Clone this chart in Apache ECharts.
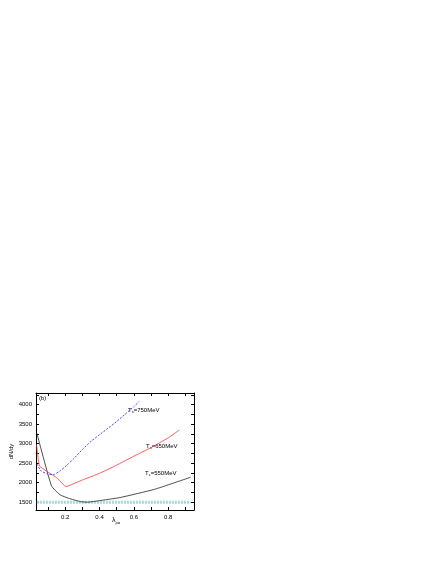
<!DOCTYPE html>
<html><head><meta charset="utf-8">
<script src="https://cdn.jsdelivr.net/npm/echarts@6/dist/echarts.min.js"></script>
<style>html,body{margin:0;padding:0;background:#fff}#c{width:436px;height:564px}</style>
</head><body><div id="c"></div>
<script>
const xTickLabels = [0.2, 0.4, 0.6, 0.8];
const xMinorTicks = [0.1, 0.2, 0.3, 0.4, 0.5, 0.6, 0.7, 0.8, 0.9];
const yTickLabels = [1500, 2000, 2500, 3000, 3500, 4000];
const yMinorTicks = [1500, 1750, 2000, 2250, 2500, 2750, 3000, 3250, 3500, 3750, 4000, 4250];

const lamT550 = [0.035, 0.12, 0.17, 0.22, 0.29, 0.33, 0.4, 0.52, 0.72, 0.93];
const dndyT550 = [3270, 1920, 1690, 1600, 1515, 1500, 1540, 1620, 1830, 2140];

const lamT650 = [0.033, 0.05, 0.1, 0.15, 0.205, 0.3, 0.4, 0.5, 0.6, 0.7, 0.8, 0.865];
const dndyT650 = [2980, 2430, 2270, 2130, 1900, 2070, 2240, 2450, 2680, 2900, 3150, 3350];

const lamT750 = [0.035, 0.06, 0.1, 0.13, 0.17, 0.21, 0.25, 0.3, 0.35, 0.4, 0.45, 0.5, 0.55, 0.6, 0.63];
const dndyT750 = [2480, 2300, 2220, 2210, 2300, 2450, 2620, 2850, 3060, 3230, 3400, 3570, 3760, 3950, 4080];

const lamRef = [0.035, 0.93];
const dndyRef = [1500, 1500];

const zip = (a, b) => a.map((v, i) => [v, b[i]]);
const FONT = 'Liberation Sans';
const chart = echarts.init(document.getElementById('c'));
const axisLine = {show: true, lineStyle: {color: '#000', width: 1}};
chart.setOption({
  animation: false,
  textStyle: {fontFamily: FONT},
  grid: {left: 36, right: 242, top: 393, bottom: 54, containLabel: false},
  xAxis: [
    {type: 'value', min: 0.03, max: 0.95, axisLine,
     axisTick: {inside: true, length: 3, customValues: xMinorTicks, lineStyle: {color: '#000'}},
     axisLabel: {customValues: xTickLabels, fontSize: 6, color: '#000', margin: 4, fontFamily: FONT,
       formatter: v => String(v)},
     splitLine: {show: false}},
    {type: 'value', position: 'top', min: 0.03, max: 0.95, axisLine,
     axisTick: {inside: true, length: 3, customValues: xMinorTicks, lineStyle: {color: '#000'}},
     axisLabel: {show: false}, splitLine: {show: false}}
  ],
  yAxis: [
    {type: 'value', min: 1300, max: 4300, axisLine,
     axisTick: {inside: true, length: 3, customValues: yMinorTicks, lineStyle: {color: '#000'}},
     axisLabel: {customValues: yTickLabels, fontSize: 6, color: '#000', margin: 4, fontFamily: FONT,
       formatter: v => String(v)},
     splitLine: {show: false},
     name: 'dN/dy', nameLocation: 'middle', nameGap: 16, nameRotate: 90,
     nameTextStyle: {fontSize: 6, color: '#000', fontFamily: FONT}},
    {type: 'value', position: 'right', min: 1300, max: 4300, axisLine,
     axisTick: {inside: true, length: 3, customValues: yMinorTicks, lineStyle: {color: '#000'}},
     axisLabel: {show: false}, splitLine: {show: false}}
  ],
  series: [
    {type: 'line', data: zip(lamRef, dndyRef), symbol: 'none', silent: true,
     lineStyle: {color: '#a9d6d6', width: 3, type: [2, 1]}},
    {type: 'line', data: zip(lamT550, dndyT550), symbol: 'none', smooth: 0.15,
     lineStyle: {color: '#222', width: 0.8}},
    {type: 'line', data: zip(lamT650, dndyT650), symbol: 'none', smooth: 0.1,
     lineStyle: {color: '#ff3333', width: 0.8}},
    {type: 'line', data: zip(lamT750, dndyT750), symbol: 'none', smooth: 0.2,
     lineStyle: {color: '#3333ff', width: 0.9, type: [2, 1.5]}}
  ],
  graphic: [
    {type: 'text', left: 39, top: 395, style: {text: '(b)', fontSize: 6, fill: '#000', fontFamily: FONT}},
    {type: 'text', left: 128, top: 407, style: {rich: {b: {fontSize: 6, fill:'#000'}, s: {fontSize: 4, fill:'#000', padding: [4,0,0,0]}},
      text: '{b|T}{s|s}{b|=750MeV}', fontFamily: FONT}},
    {type: 'text', left: 146, top: 443, style: {rich: {b: {fontSize: 6, fill:'#000'}, s: {fontSize: 4, fill:'#000', padding: [4,0,0,0]}},
      text: '{b|T}{s|s}{b|=650MeV}', fontFamily: FONT}},
    {type: 'text', left: 145, top: 470, style: {rich: {b: {fontSize: 6, fill:'#000'}, s: {fontSize: 4, fill:'#000', padding: [4,0,0,0]}},
      text: '{b|T}{s|c}{b|=550MeV}', fontFamily: FONT}},
    {type: 'text', left: 112, top: 517, style: {rich: {b: {fontSize: 7, fill:'#000'}, s: {fontSize: 4, fill:'#000', padding: [5,0,0,0]}},
      text: '{b|λ}{s|ρσ}', fontFamily: FONT}}
  ]
});
</script></body></html>
